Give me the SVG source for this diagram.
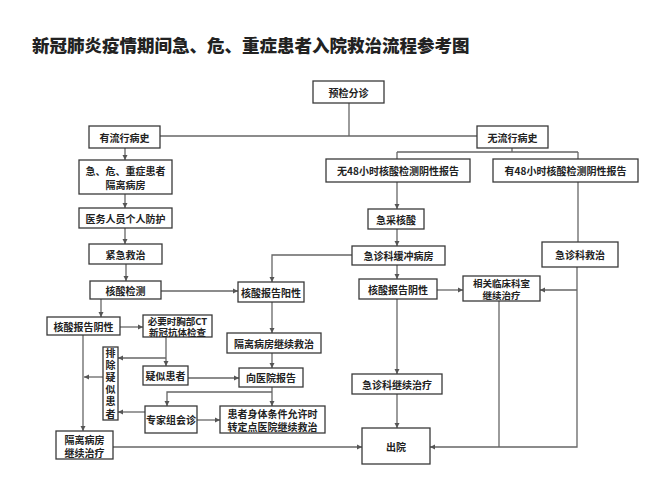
<svg xmlns="http://www.w3.org/2000/svg" width="668" height="477" viewBox="0 0 668 477">
<defs>
<marker id="ah" markerWidth="6" markerHeight="6" refX="5" refY="3" orient="auto" markerUnits="userSpaceOnUse">
<path d="M0,0.5 L5,3 L0,5.5 Z" fill="#555"/>
</marker>
<style>
.b{fill:#fff;stroke:#3a3a3a;stroke-width:1.3}
.t{font-family:"Noto Sans CJK SC","Liberation Sans",sans-serif;font-size:10px;font-weight:bold;fill:#222;text-anchor:middle;dominant-baseline:central}
.s{font-size:9.5px}
.v{writing-mode:vertical-rl;letter-spacing:2.2px}
.title{font-family:"Noto Sans CJK SC","Liberation Sans",sans-serif;font-size:17.5px;font-weight:900;fill:#222}
.c{fill:none;stroke:#666;stroke-width:1.3}
.a{marker-end:url(#ah)}
</style>
</defs>
<rect width="668" height="477" fill="#fff"/>
<text class="title" x="32" y="52">新冠肺炎疫情期间急、危、重症患者入院救治流程参考图</text>

<g id="connectors">
<path class="c" d="M349,103 V136"/>
<path class="c" d="M160,136 H477"/>
<path class="c a" d="M125,148 V160"/>
<path class="c a" d="M125,194 V208"/>
<path class="c a" d="M125,228 V244"/>
<path class="c a" d="M126,264 V281"/>
<path class="c" d="M512,148 V152 M397,152 H578"/>
<path class="c" d="M397,152 V159"/>
<path class="c" d="M578,152 V159"/>
<path class="c a" d="M397,182 V209"/>
<path class="c a" d="M397,229 V246"/>
<path class="c" d="M578,182 V242"/>
<path class="c a" d="M352,255 H272 V282"/>
<path class="c a" d="M397,265 V279"/>
<path class="c a" d="M437,290 H463"/>
<path class="c a" d="M577,267 V447 H430"/>
<path class="c a" d="M577,290 H540"/>
<path class="c" d="M499,301 V447"/>
<path class="c a" d="M397,299 V374"/>
<path class="c a" d="M397,394 V428"/>
<path class="c a" d="M161,291 H238"/>
<path class="c a" d="M101,299 V317"/>
<path class="c a" d="M120,327 H143"/>
<path class="c a" d="M166,337 V366"/>
<path class="c a" d="M166,358 H118"/>
<path class="c a" d="M188,378 H239"/>
<path class="c a" d="M272,302 V333"/>
<path class="c a" d="M272,353 V368"/>
<path class="c a" d="M272,387 V406"/>
<path class="c a" d="M272,392 H167 V406"/>
<path class="c a" d="M145,412 H118"/>
<path class="c a" d="M197,420 H220"/>
<path class="c a" d="M103,377 H84"/>
<path class="c a" d="M83,335 V431"/>
<path class="c a" d="M113,447 H362"/>
</g>

<g id="n-yujian"><rect class="b" x="313" y="81" width="71" height="22"/><text class="t" x="348.5" y="92">预检分诊</text></g>
<g id="n-you"><rect class="b" x="89" y="126" width="71" height="22"/><text class="t" x="124.5" y="137">有流行病史</text></g>
<g id="n-wu"><rect class="b" x="477" y="126" width="71" height="22"/><text class="t" x="512.5" y="137">无流行病史</text></g>
<g id="n-geli1"><rect class="b" x="79" y="160" width="93" height="34"/><text class="t" x="125.5" y="170.5">急、危、重症患者<tspan x="125.5" dy="13">隔离病房</tspan></text></g>
<g id="n-fanghu"><rect class="b" x="79" y="208" width="93" height="20"/><text class="t" x="125.5" y="218">医务人员个人防护</text></g>
<g id="n-jinji"><rect class="b" x="89" y="244" width="73" height="20"/><text class="t" x="125.5" y="254">紧急救治</text></g>
<g id="n-wu48"><rect class="b" x="326" y="159" width="144" height="23"/><text class="t" x="398" y="170.5">无48小时核酸检测阴性报告</text></g>
<g id="n-you48"><rect class="b" x="493" y="159" width="145" height="23"/><text class="t" x="565.5" y="170.5">有48小时核酸检测阴性报告</text></g>
<g id="n-jicai"><rect class="b" x="368" y="209" width="56" height="20"/><text class="t" x="396" y="219">急采核酸</text></g>
<g id="n-huanchong"><rect class="b" x="352" y="246" width="93" height="19"/><text class="t" x="398.5" y="255.5">急诊科缓冲病房</text></g>
<g id="n-jizhen"><rect class="b" x="542" y="242" width="76" height="25"/><text class="t" x="580" y="254.5">急诊科救治</text></g>
<g id="n-jiance"><rect class="b" x="90" y="281" width="71" height="18"/><text class="t" x="125.5" y="290">核酸检测</text></g>
<g id="n-yang"><rect class="b" x="238" y="282" width="66" height="20"/><text class="t" x="271" y="292">核酸报告阳性</text></g>
<g id="n-yin2"><rect class="b" x="359" y="279" width="78" height="20"/><text class="t" x="398" y="289">核酸报告阴性</text></g>
<g id="n-linchuang"><rect class="b" x="463" y="276" width="77" height="25"/><text class="t s" x="501.5" y="282.5">相关临床科室<tspan x="501.5" dy="12">继续治疗</tspan></text></g>
<g id="n-yin1"><rect class="b" x="47" y="317" width="73" height="18"/><text class="t" x="83.5" y="326">核酸报告阴性</text></g>
<g id="n-ct"><rect class="b" x="143" y="315" width="69" height="22"/><text class="t s" x="177.5" y="320.5">必要时胸部CT<tspan x="177.5" dy="11">新冠抗体检查</tspan></text></g>
<g id="n-geli2"><rect class="b" x="227" y="333" width="94" height="20"/><text class="t" x="274" y="343">隔离病房继续救治</text></g>
<g id="n-paichu"><rect class="b" x="103" y="347" width="15" height="73"/><text class="t v" x="110.5" y="384.5">排除疑似患者</text></g>
<g id="n-yisi"><rect class="b" x="143" y="366" width="45" height="19"/><text class="t" x="165.5" y="375.5">疑似患者</text></g>
<g id="n-baogao"><rect class="b" x="239" y="368" width="64" height="19"/><text class="t" x="271" y="377.5">向医院报告</text></g>
<g id="n-jixu"><rect class="b" x="352" y="374" width="90" height="20"/><text class="t" x="397" y="384">急诊科继续治疗</text></g>
<g id="n-zhuanjia"><rect class="b" x="145" y="406" width="52" height="27"/><text class="t" x="171" y="419.5">专家组会诊</text></g>
<g id="n-zhuan"><rect class="b" x="220" y="406" width="105" height="27"/><text class="t" x="272.5" y="413.5">患者身体条件允许时<tspan x="272.5" dy="12.5">转定点医院继续救治</tspan></text></g>
<g id="n-geli3"><rect class="b" x="56" y="431" width="57" height="28"/><text class="t" x="84.5" y="439">隔离病房<tspan x="84.5" dy="12.5">继续治疗</tspan></text></g>
<g id="n-chuyuan"><rect class="b" x="362" y="428" width="68" height="36"/><text class="t" x="396" y="446">出院</text></g>
</svg>
